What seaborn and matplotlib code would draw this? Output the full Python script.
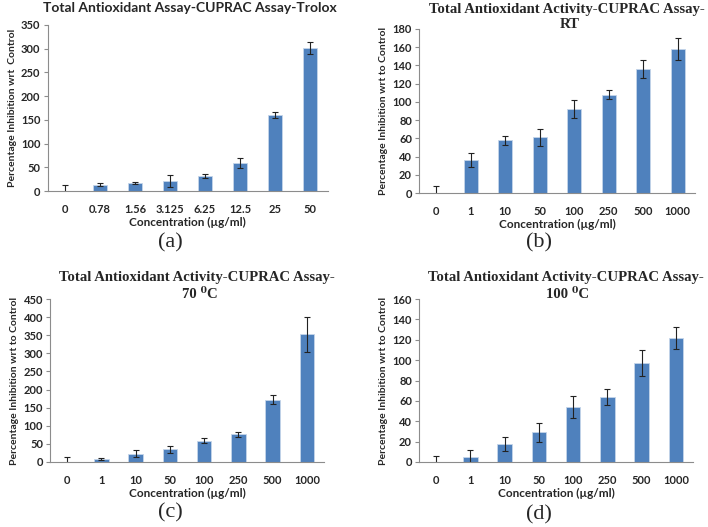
import numpy as np
import pandas as pd
import seaborn as sns
import matplotlib.pyplot as plt

# data
conc_a = ["0", "0.78", "1.56", "3.125", "6.25", "12.5", "25", "50"]
val_a = [0, 13, 17, 21, 32, 59, 160, 301]
err_a = [12, 3, 3, 12, 4, 11, 6, 13]

conc_bcd = ["0", "1", "10", "50", "100", "250", "500", "1000"]
val_b = [0, 36, 58, 61, 92, 108, 136, 158]
err_b = [8, 8, 5, 9, 10, 5, 10, 12]

val_c = [0, 8, 23, 35, 59, 76, 172, 352]
err_c = [14, 3, 9, 9, 6, 6, 12, 48]

val_d = [0, 5, 18, 29, 54, 64, 97, 122]
err_d = [6, 7, 7, 9, 11, 8, 13, 11]

sns.set_style("white")
plt.rcParams['font.family'] = ['Lato', 'DejaVu Sans']

W, H = 708, 527
fig = plt.figure(figsize=(W / 100, H / 100), dpi=100)

bar_col = "#4F81BD"
serif = ['Liberation Serif', 'DejaVu Serif']


def px_axes(left, right, top, bottom):
    return fig.add_axes([left / W, 1 - bottom / H, (right - left) / W, (bottom - top) / H])


def px_text(x, y, s, **kw):
    fig.text(x / W, 1 - y / H, s, ha='center', va='center', **kw)


def panel(ax, cats, vals, errs, ymax, ystep, ylabel):
    df = pd.DataFrame({"conc": cats, "val": vals})
    sns.barplot(data=df, x="conc", y="val", ax=ax, color=bar_col, width=0.42,
                saturation=1, edgecolor="#C5D5EA", linewidth=0.6)
    ax.errorbar(np.arange(len(cats)), vals, yerr=errs, fmt='none', ecolor='#222222',
                elinewidth=0.8, capsize=2.2, capthick=0.8)
    ax.set_ylim(0, ymax)
    ax.set_yticks(np.arange(0, ymax + 1, ystep))
    ax.set_xlim(-0.5, len(cats) - 0.5)
    for s in ['top', 'right']:
        ax.spines[s].set_visible(False)
    for s in ['left', 'bottom']:
        ax.spines[s].set_color('#8C8C8C')
        ax.spines[s].set_linewidth(0.8)
    ax.tick_params(axis='y', left=True, length=3, color='#8C8C8C', labelsize=8, pad=2)
    ax.tick_params(axis='x', bottom=False, labelsize=8, pad=6)
    for t in ax.get_xticklabels() + ax.get_yticklabels():
        t.set_fontweight('bold')
    ax.set_xlabel("Concentration (µg/ml)", fontsize=8.5, fontweight='bold', labelpad=1)
    ax.set_ylabel(ylabel, fontsize=7.5, fontweight='bold', labelpad=3)


ax_a = px_axes(47.5, 327.5, 25, 191)
panel(ax_a, conc_a, val_a, err_a, 350, 50, "Percentage Inhibition wrt  Control")
px_text(190, 8, "Total Antioxidant Assay-CUPRAC Assay-Trolox", fontsize=10, fontweight='bold')

title_kw = dict(fontsize=10.6, fontweight='bold', family=serif)
line1 = "Total Antioxidant Activity-CUPRAC Assay-"

ax_b = px_axes(419, 695, 29, 193)
panel(ax_b, conc_bcd, val_b, err_b, 180, 20, "Percentage Inhibition wrt to Control")
px_text(567, 9, line1, **title_kw)
px_text(570, 25, "RT", **title_kw)

ax_c = px_axes(50, 324, 299, 462)
panel(ax_c, conc_bcd, val_c, err_c, 450, 50, "Percentage Inhibition wrt to Control")
px_text(197, 277, line1, **title_kw)
px_text(200, 295, "70 \u2070C", **title_kw)

ax_d = px_axes(419, 693, 299, 462)
panel(ax_d, conc_bcd, val_d, err_d, 160, 20, "Percentage Inhibition wrt to Control")
px_text(566, 277, line1, **title_kw)
px_text(568, 295, "100 \u2070C", **title_kw)

for lbl, x, y in [("(a)", 170, 243), ("(b)", 539, 243), ("(c)", 170, 513), ("(d)", 539, 515)]:
    px_text(x, y, lbl, fontsize=16, family=serif)

fig.savefig("out.png", dpi=100, facecolor='white')
